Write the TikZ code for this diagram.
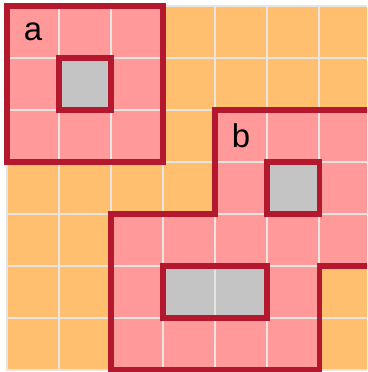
\documentclass[tikz,border=0pt]{standalone}
\usepackage{fontspec}
\setmainfont{Liberation Sans}
\usepackage{tikz}
\definecolor{celdanaranja}{HTML}{FFBF6E}
\definecolor{celdarosa}{HTML}{FF999A}
\definecolor{celdagris}{HTML}{C4C4C4}
\definecolor{lineagris}{HTML}{E8E4E0}
\definecolor{bordeguinda}{HTML}{B3182F}

\begin{document}
\begin{tikzpicture}[
    every node/.style={font=\fontsize{18}{20}\selectfont},
    celda/.style={draw=lineagris, line width=1.4pt},
    borde/.style={draw=bordeguinda, line width=2.8pt, line join=miter}
]
\useasboundingbox (-0.135,-0.038) rectangle (6.923,7.115);
\fill[white] (-0.135,-0.038) rectangle (6.923,7.115);
\clip (-0.135,-0.038) rectangle (6.923,7.115);

% base grid
\foreach \i in {0,...,6}
    \foreach \j in {0,...,6}
        \draw[celda, fill=celdanaranja] (\i,\j) rectangle ++(1,1);

% region cells
\foreach \i/\j in {0/4,1/4,2/4,0/5,2/5,0/6,1/6,2/6,
                   4/4,5/4,6/4,4/3,6/3,2/2,3/2,4/2,5/2,6/2,
                   2/1,5/1,2/0,3/0,4/0,5/0}
    \draw[celda, fill=celdarosa] (\i,\j) rectangle ++(1,1);

% holes
\foreach \i/\j in {1/5,5/3,3/1,4/1}
    \draw[celda, fill=celdagris] (\i,\j) rectangle ++(1,1);

% region a
\draw[borde] (0,4) rectangle (3,7);
\draw[borde] (1,5) rectangle (2,6);
\node (etiqA) at (0.5,6.5) {a};

% region b
\draw[borde] (4,5) -- (7,5) -- (7,2) -- (6,2) -- (6,0) -- (2,0)
    -- (2,3) -- (4,3) -- cycle;
\draw[borde] (5,3) rectangle (6,4);
\draw[borde] (3,1) rectangle (5,2);
\node (etiqB) at (4.5,4.5) {b};
\end{tikzpicture}
\end{document}
